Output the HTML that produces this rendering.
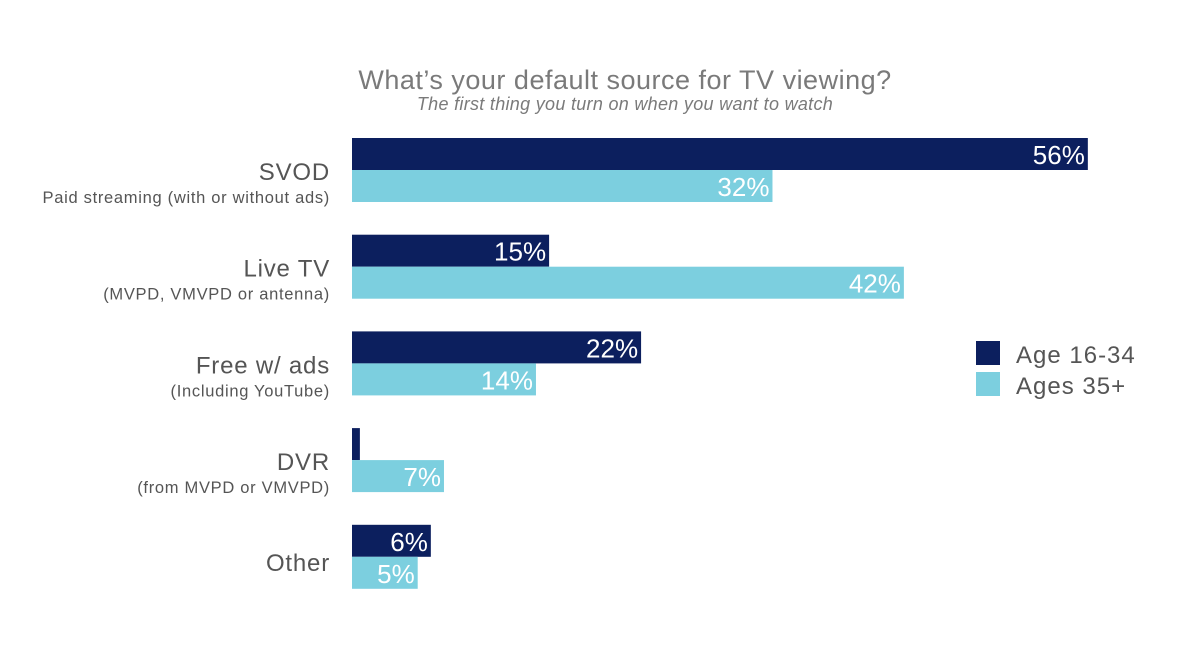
<!DOCTYPE html>
<html><head><meta charset="utf-8"><style>
body{margin:0;background:#fff;}
svg{display:block;font-family:"Liberation Sans",sans-serif;}
</style></head><body>
<svg id="chart" width="1200" height="658" viewBox="0 0 1200 658">
<text x="625" y="89" text-anchor="middle" font-size="27" letter-spacing="0.5" fill="#7a7a7a">What’s your default source for TV viewing?</text>
<text x="625" y="110" text-anchor="middle" font-size="18" letter-spacing="0.3" font-style="italic" fill="#7a7a7a">The first thing you turn on when you want to watch</text>
<g id="bars"></g>
<g>
<rect x="976" y="341" width="24" height="24" fill="#0c1f5e"/>
<text x="1016" y="363" font-size="24" letter-spacing="1" fill="#555">Age 16-34</text>
<rect x="976" y="372" width="24" height="24" fill="#7ccfdf"/>
<text x="1016" y="394" font-size="24" letter-spacing="1" fill="#555">Ages 35+</text>
</g>
</svg>
<script>
const categories = ["SVOD","Live TV","Free w/ ads","DVR","Other"];
const subLabels = ["Paid streaming (with or without ads)","(MVPD, VMVPD or antenna)","(Including YouTube)","(from MVPD or VMVPD)",""];
const youngValues = [56,15,22,0.6,6];
const olderValues = [32,42,14,7,5];
const ns="http://www.w3.org/2000/svg";
const g=document.getElementById("bars");
const x0=352, pxPer=13.14;
function xScale(v){return x0+v*pxPer;}
function yGroup(i){return 138+i*96.7;}
const barH=32;
function mk(tag,attrs){const e=document.createElementNS(ns,tag);for(const k in attrs)e.setAttribute(k,attrs[k]);return e;}
categories.forEach((c,i)=>{
  const y=yGroup(i);
  [[youngValues[i],"#0c1f5e",0,"young"],[olderValues[i],"#7ccfdf",barH,"older"]].forEach(([v,col,off,key])=>{
    const r=mk("rect",{x:x0,y:y+off,width:xScale(v)-x0,height:barH,fill:col});
    
    
    g.appendChild(r);
    if(v>=2){
      const t=mk("text",{x:xScale(v)-3,y:y+off+26,"text-anchor":"end","font-size":"26",fill:"#fff"});
      
      
      t.textContent=Math.round(v)+"%";
      g.appendChild(t);
    }
  });
  const hasSub=subLabels[i]!=="";
  const lt=mk("text",{x:330,y:hasSub?y+42:y+46,"text-anchor":"end","font-size":"24","letter-spacing":"0.8",fill:"#555"});
  
  
  lt.textContent=c;
  g.appendChild(lt);
  if(hasSub){
    const st=mk("text",{x:330,y:y+65,"text-anchor":"end","font-size":"16.5","letter-spacing":"0.7",fill:"#555"});
    
    
    st.textContent=subLabels[i];
    g.appendChild(st);
  }
});
</script>
</body></html>
